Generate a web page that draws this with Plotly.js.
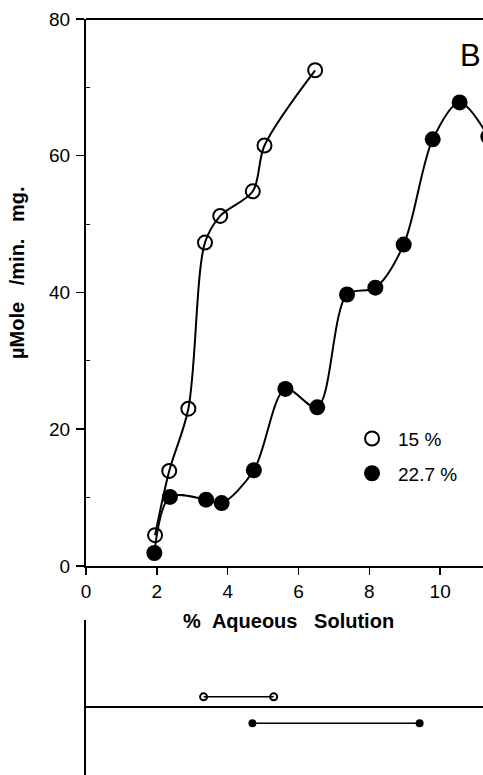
<!DOCTYPE html>
<html>
<head>
<meta charset="utf-8">
<script src="https://cdn.plot.ly/plotly-3.0.1.min.js"></script>
<style>html,body{margin:0;padding:0;background:#fff;}#chart{width:483px;height:775px;}</style>
</head>
<body>
<div id="chart"></div>
<script>
// Series: 15 % (open circles)
const x15 = [1.95, 2.35, 2.89, 3.36, 3.79, 4.71, 5.04, 6.47];
const y15 = [4.5, 13.9, 23.0, 47.3, 51.2, 54.8, 61.5, 72.5];
// Series: 22.7 % (filled circles)
const x227 = [1.93, 2.37, 3.39, 3.83, 4.74, 5.63, 6.53, 7.37, 8.17, 8.97, 9.79, 10.55, 11.36];
const y227 = [1.9, 10.1, 9.7, 9.2, 14.0, 25.9, 23.2, 39.7, 40.7, 47.0, 62.4, 67.8, 62.8];
// Lower panel: ranges of % aqueous solution
const range15 = [3.32, 5.30];
const range227 = [4.70, 9.42];
const xTicks = [0, 2, 4, 6, 8, 10];
const yTicks = [0, 20, 40, 60, 80];
const seriesNames = ["15 %", "22.7 %"];

const FONT = "Liberation Sans, Arial, Helvetica, sans-serif";
const lvl15 = 0.15, lvl227 = -0.24;

const lineStyle = {color: "#000", width: 2, shape: "spline", smoothing: 0.9};
const openMarker = {symbol: "circle-open", size: 14, color: "#000", line: {width: 2}};
const fillMarker = {symbol: "circle", size: 16, color: "#000"};

const traces = [
  {x: x15, y: y15, type: "scatter", mode: "lines", showlegend: false,
   line: lineStyle, xaxis: "x", yaxis: "y"},
  {x: x227, y: y227, type: "scatter", mode: "lines", showlegend: false,
   line: lineStyle, xaxis: "x", yaxis: "y"},
  {x: x15, y: y15, name: seriesNames[0], type: "scatter", mode: "markers",
   legendgroup: "a", marker: openMarker, xaxis: "x", yaxis: "y"},
  {x: x227, y: y227, name: seriesNames[1], type: "scatter", mode: "markers",
   legendgroup: "b", marker: fillMarker, xaxis: "x", yaxis: "y"},
  {x: range15, y: range15.map(() => lvl15), type: "scatter", mode: "lines+markers",
   showlegend: false, line: {color: "#000", width: 1.5},
   marker: {symbol: "circle-open", size: 7, color: "#000", line: {width: 2}},
   xaxis: "x2", yaxis: "y2"},
  {x: range227, y: range227.map(() => lvl227), type: "scatter", mode: "lines+markers",
   showlegend: false, line: {color: "#000", width: 1.5},
   marker: {symbol: "circle", size: 8, color: "#000"},
   xaxis: "x2", yaxis: "y2"}
];

const layout = {
  width: 483, height: 775,
  margin: {l: 86, r: 0, t: 19, b: 0},
  paper_bgcolor: "#fff", plot_bgcolor: "rgba(0,0,0,0)",
  font: {family: FONT, color: "#000", size: 19},
  showlegend: true,
  legend: {x: 0.655, y: 0.47, xanchor: "left", yanchor: "top",
           font: {family: FONT, size: 19, color: "#000"},
           itemwidth: 42, tracegroupgap: 7,
           bgcolor: "rgba(0,0,0,0)", borderwidth: 0},
  xaxis: {domain: [0, 1], range: [0, 11.21], anchor: "y",
          tickvals: xTicks, ticktext: xTicks.map(String),
          ticks: "outside", ticklen: 7, tickwidth: 1.5, tickcolor: "#000",
          showline: true, mirror: false, linecolor: "#000", linewidth: 2,
          showgrid: false, zeroline: false,
          tickfont: {family: FONT, size: 19, color: "#000"}},
  yaxis: {domain: [0.2765, 1], range: [0, 80], anchor: "x",
          tickvals: yTicks, ticktext: yTicks.map(String),
          ticks: "outside", ticklen: 8, tickwidth: 1.5, tickcolor: "#000",
          minor: {tickvals: [10, 30, 50, 70], ticks: "inside", ticklen: 4, tickwidth: 1, tickcolor: "#000"},
          showline: true, linecolor: "#000", linewidth: 2,
          showgrid: false, zeroline: false,
          ticklabelstandoff: 2,
          tickfont: {family: FONT, size: 19, color: "#000"}},
  xaxis2: {domain: [0, 1], range: [0, 11.21], anchor: "y2", matches: "x",
           visible: false},
  yaxis2: {domain: [0, 0.205], range: [-1, 1.28], anchor: "x2",
           showline: true, linecolor: "#000", linewidth: 2,
           showticklabels: false, ticks: "", showgrid: false,
           zeroline: true, zerolinecolor: "#000", zerolinewidth: 1.8},
  shapes: [
    {type: "line", xref: "paper", yref: "paper", x0: 0, x1: 1, y0: 1, y1: 1,
     line: {color: "#000", width: 2}}
  ],
  annotations: [
    {text: "B", xref: "paper", yref: "paper", x: 1, y: (775 - 55) / 756,
     xanchor: "right", yanchor: "middle", showarrow: false,
     font: {family: FONT, size: 31, color: "#000"}},
    {text: "%\u00a0\u00a0Aqueous\u00a0\u00a0\u00a0Solution", xref: "paper", yref: "paper",
     x: (288 - 86) / 397, y: (775 - 621) / 756, xanchor: "center", yanchor: "middle",
     showarrow: false, font: {family: FONT, size: 20, color: "#000", weight: "bold"}},
    {text: "\u00b5Mole\u00a0\u00a0\u00a0/min.\u00a0\u00a0\u00a0mg.", xref: "paper", yref: "paper",
     x: (17 - 86) / 397, y: (775 - 273) / 756, xanchor: "center", yanchor: "middle",
     textangle: -90, showarrow: false,
     font: {family: FONT, size: 20, color: "#000", weight: "bold"}}
  ]
};

Plotly.newPlot("chart", traces, layout, {staticPlot: true, displayModeBar: false});
</script>
</body>
</html>
